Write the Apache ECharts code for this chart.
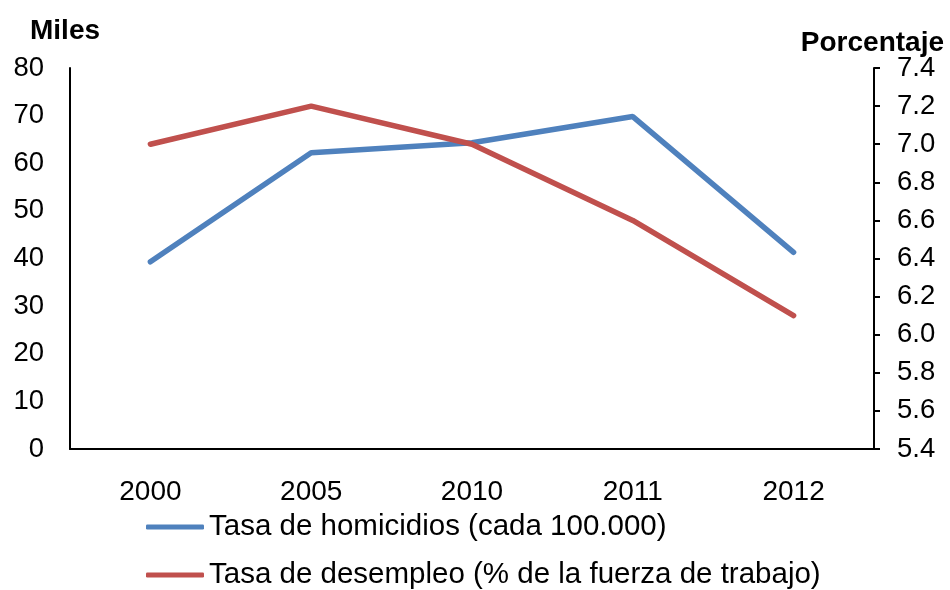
<!DOCTYPE html>
<html>
<head>
<meta charset="utf-8">
<script src="https://cdn.jsdelivr.net/npm/echarts@6/dist/echarts.min.js"></script>
<style>
  html, body { margin: 0; padding: 0; background: #fff; }
  #chart { width: 950px; height: 590px; }
</style>
</head>
<body>
<div id="chart"></div>
<script>
const years = ['2000', '2005', '2010', '2011', '2012']
const homicidios = [39.3, 62.2, 64.3, 69.8, 41.3]
const desempleo = [7.0, 7.2, 7.0, 6.6, 6.1]
const nameHomicidios = 'Tasa de homicidios (cada 100.000)'
const nameDesempleo = 'Tasa de desempleo (% de la fuerza de trabajo)'

const font = 'Liberation Sans, Arial, sans-serif'
const chart = echarts.init(document.getElementById('chart'))

// una leyenda por fila
const legendRow = (name, top) => ({
  left: 141,
  top: top,
  icon: 'roundRect',
  itemWidth: 58,
  itemHeight: 5,
  data: [name],
  textStyle: { fontFamily: font, fontSize: 29.5, color: '#000', lineHeight: 32 }
})

chart.setOption({
  animation: false,
  textStyle: { fontFamily: font },
  title: [
    {
      text: 'Miles',
      left: 25,
      top: 12,
      textStyle: { fontFamily: font, fontSize: 28, fontWeight: 'bold', color: '#000' }
    },
    {
      text: 'Porcentaje',
      right: 1,
      top: 24,
      textStyle: { fontFamily: font, fontSize: 28, fontWeight: 'bold', color: '#000' }
    }
  ],
  legend: [legendRow(nameHomicidios, 506), legendRow(nameDesempleo, 554)],
  grid: { left: 70, right: 76, top: 68, bottom: 141 },
  xAxis: {
    type: 'category',
    data: years,
    axisLine: { lineStyle: { color: '#000', width: 2 } },
    axisTick: { show: false },
    axisLabel: { fontSize: 28, color: '#000', margin: 29 }
  },
  yAxis: [
    {
      type: 'value',
      min: 0,
      max: 80,
      interval: 10,
      axisLine: { show: true, lineStyle: { color: '#000', width: 2 } },
      axisTick: { show: false },
      splitLine: { show: false },
      axisLabel: { fontSize: 27.5, color: '#000', margin: 26 }
    },
    {
      type: 'value',
      min: 5.4,
      max: 7.4,
      interval: 0.2,
      position: 'right',
      axisLine: { show: true, lineStyle: { color: '#000', width: 2 } },
      axisTick: { show: true, length: 6, lineStyle: { color: '#000', width: 2 } },
      splitLine: { show: false },
      axisLabel: {
        fontSize: 27.5,
        color: '#000',
        margin: 23,
        formatter: v => v.toFixed(1)
      }
    }
  ],
  series: [
    {
      name: nameHomicidios,
      type: 'line',
      yAxisIndex: 0,
      data: homicidios,
      symbol: 'none',
      lineStyle: { color: '#4F81BD', width: 5.5, cap: 'round' },
      itemStyle: { color: '#4F81BD' }
    },
    {
      name: nameDesempleo,
      type: 'line',
      yAxisIndex: 1,
      data: desempleo,
      symbol: 'none',
      lineStyle: { color: '#C0504D', width: 5.5, cap: 'round' },
      itemStyle: { color: '#C0504D' }
    }
  ]
})
</script>
</body>
</html>
